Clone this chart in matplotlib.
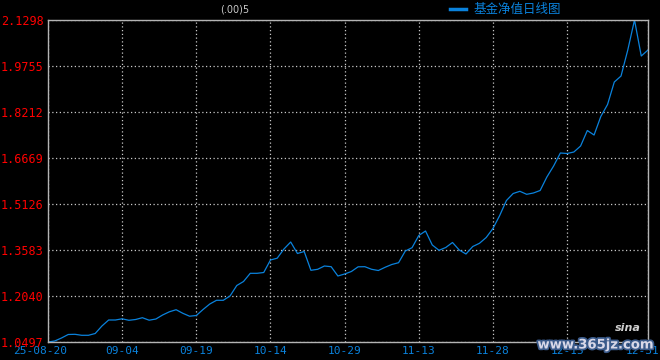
import matplotlib
matplotlib.use('Agg')
import matplotlib.pyplot as plt
import matplotlib.patheffects as pe
from matplotlib.transforms import ScaledTranslation

# fund NAV, one value per trading day, 2025-08-20 .. 2025-12-31
nav = [1.0497, 1.0531, 1.0631, 1.0749, 1.0755, 1.0722, 1.0722, 1.0782, 1.1034, 1.1235,
       1.1235, 1.1275, 1.1225, 1.1252, 1.1312, 1.1228, 1.1268, 1.1403, 1.1510, 1.1580,
       1.1460, 1.1362, 1.1386, 1.1587, 1.1772, 1.1896, 1.1896, 1.2040, 1.2392, 1.2526,
       1.2801, 1.2801, 1.2828, 1.3248, 1.3308, 1.3617, 1.3851, 1.3466, 1.3533, 1.2902,
       1.2936, 1.3046, 1.3023, 1.2711, 1.2778, 1.2862, 1.3019, 1.3023, 1.2936, 1.2895,
       1.3003, 1.3097, 1.3157, 1.3549, 1.3660, 1.4069, 1.4220, 1.3751, 1.3573, 1.3667,
       1.3835, 1.3583, 1.3449, 1.3700, 1.3808, 1.4002, 1.4304, 1.4740, 1.5243, 1.5478,
       1.5552, 1.5451, 1.5495, 1.5579, 1.6032, 1.6401, 1.6837, 1.6820, 1.6870, 1.7071,
       1.7591, 1.7440, 1.8061, 1.8463, 1.9218, 1.9419, 2.0291, 2.1298, 2.0090, 2.0291]

x_ticks = [0, 11, 22, 33, 44, 55, 66, 77, 89]
x_labels = ['25-08-20', '09-04', '09-19', '10-14', '10-29', '11-13', '11-28', '12-15', '12-31']
y_ticks = [1.0497, 1.2040, 1.3583, 1.5126, 1.6669, 1.8212, 1.9755, 2.1298]

title = '(.00)5'
legend_label = '基金净值日线图'

line_color = '#0a82dc'
grid_color = '#c8c8c8'

fig = plt.figure(figsize=(6.6, 3.6), dpi=100, facecolor='black')
ax = fig.add_axes([48/660, 18/360, 600/660, 322/360], facecolor='black')

ax.plot(range(len(nav)), nav, color=line_color, lw=0.9)

ax.set_xlim(0, len(nav) - 1)
ax.set_ylim(y_ticks[0], y_ticks[-1])
ax.set_xticks(x_ticks)
ax.set_xticklabels(x_labels, family='DejaVu Sans Mono', fontsize=8, color=line_color)
ax.set_yticks(y_ticks)
ax.set_yticklabels(['%.4f' % v for v in y_ticks], family='DejaVu Sans Mono',
                   fontsize=8.5, color='#ff0000')
ax.tick_params(axis='y', length=0, pad=3)
ax.tick_params(axis='x', length=0, pad=3)

# first and last date labels are pushed inside the picture
xl = ax.get_xticklabels()
xl[0].set_transform(xl[0].get_transform() + ScaledTranslation(-8/100, 0, fig.dpi_scale_trans))
xl[-1].set_transform(xl[-1].get_transform() + ScaledTranslation(-5/100, 0, fig.dpi_scale_trans))

ax.grid(True, color=grid_color, linestyle=(0, (1, 2)), lw=0.9)
for s in ax.spines.values():
    s.set_color('#b4b4b4')
    s.set_linewidth(1.0)

fig.text(235/660, 1 - 9/360, title, color='#c8c8c8', fontsize=7,
         ha='center', va='center')

# legend
fig.add_artist(plt.Line2D([450/660, 466/660], [1 - 9/360, 1 - 9/360],
                          color=line_color, lw=2.5))
fig.text(474/660, 1 - 9/360, legend_label, color=line_color, fontsize=9,
         family=['Noto Sans CJK SC', 'DejaVu Sans'], ha='left', va='center')

# watermark
fig.text(596/660, 1 - 345/360, 'www.365jz.com', color='#d8d8e8', fontsize=9.5,
         fontweight='bold', ha='center', va='center',
         path_effects=[pe.withStroke(linewidth=2.5, foreground='#3a5a8a')])
fig.text(628/660, 1 - 328/360, 'sina', color='#d0d0d0', fontsize=8,
         fontweight='bold', style='italic', ha='center', va='center')

plt.savefig('out.png', dpi=100, facecolor='black')
